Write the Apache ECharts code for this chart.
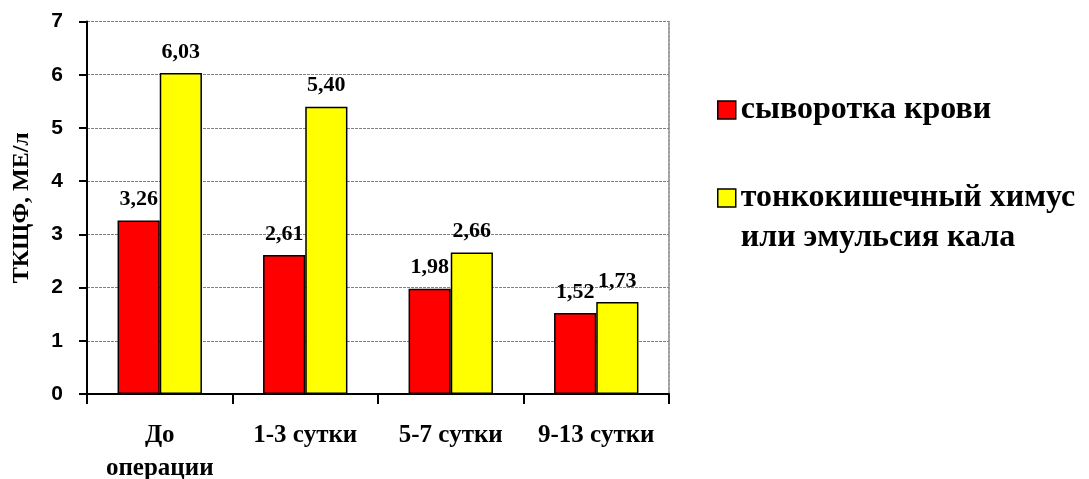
<!DOCTYPE html>
<html>
<head>
<meta charset="utf-8">
<script src="https://cdn.jsdelivr.net/npm/echarts@6/dist/echarts.min.js"></script>
<style>
  html, body { margin: 0; padding: 0; background: #ffffff; }
  #chart { width: 1089px; height: 479px; }
</style>
</head>
<body>
<div id="chart"></div>
<script>
// Categories (time points) and values, МЕ/л
const categories = ['До\nоперации', '1-3 сутки', '5-7 сутки', '9-13 сутки'];
const serumName = 'сыворотка крови';
const chymeName = 'тонкокишечный химус\nили эмульсия кала';
const serumValues = [3.26, 2.61, 1.98, 1.52];
const chymeValues = [6.03, 5.40, 2.66, 1.73];
const yAxisTitle = 'ТКЩФ, МЕ/л';

const SERIF = '"Liberation Serif", "Times New Roman", serif';
const SANS = '"Liberation Sans", Arial, sans-serif';

const fmt = v => v.value.toFixed(2).replace('.', ',');

const valueLabel = {
  show: true,
  position: 'top',
  distance: 10,
  formatter: fmt,
  fontFamily: SERIF,
  fontWeight: 'bold',
  fontSize: 22,
  color: '#000'
};

const LEGEND_LINE = 40;
const legendText = {
  fontFamily: SERIF,
  fontWeight: 'bold',
  fontSize: 32,
  color: '#000',
  lineHeight: LEGEND_LINE
};

const legendCommon = {
  orient: 'vertical',
  left: 712,
  itemWidth: 18,
  itemHeight: 18,
  itemGap: 10,
  selectedMode: false,
  icon: 'rect',
  itemStyle: { borderColor: '#000', borderWidth: 1.5 },
  textStyle: legendText
};

const chart = echarts.init(document.getElementById('chart'), null, { renderer: 'canvas' });
chart.setOption({
  backgroundColor: '#ffffff',
  animation: false,
  grid: { left: 87, right: 420, top: 21.5, bottom: 85, containLabel: false, outerBoundsMode: 'none' },
  legend: [
    Object.assign({}, legendCommon, {
      data: [serumName],
      top: 85
    }),
    Object.assign({}, legendCommon, {
      data: [chymeName],
      top: 133,
      // a blank first line keeps the icon level with the first text line
      formatter: name => ' \n' + name
    })
  ],
  xAxis: {
    type: 'category',
    data: categories,
    axisLine: { lineStyle: { color: '#000', width: 2 } },
    axisTick: { show: true, length: 10, alignWithLabel: false, lineStyle: { color: '#000', width: 2 } },
    axisLabel: {
      margin: 25,
      interval: 0,
      fontFamily: SERIF,
      fontWeight: 'bold',
      fontSize: 25,
      lineHeight: 33,
      color: '#000'
    },
    splitLine: { show: false }
  },
  yAxis: [
    {
      type: 'value',
      min: 0,
      max: 7,
      interval: 1,
      name: yAxisTitle,
      nameLocation: 'middle',
      nameGap: 53,
      nameRotate: 90,
      nameTextStyle: { fontFamily: SERIF, fontWeight: 'bold', fontSize: 24, color: '#000' },
      axisLine: { show: true, lineStyle: { color: '#000', width: 2 } },
      axisTick: { show: true, length: 8, lineStyle: { color: '#000', width: 2 } },
      axisLabel: { margin: 24, fontFamily: SANS, fontWeight: 'bold', fontSize: 21, color: '#000' },
      splitLine: { show: true, lineStyle: { color: '#808080', width: 1, type: [3, 1] } }
    },
    {
      // dashed frame on the right side of the plot area
      type: 'value',
      position: 'right',
      min: 0,
      max: 7,
      interval: 1,
      axisLine: { show: true, lineStyle: { color: '#808080', width: 1.5, type: [3, 1] } },
      axisTick: { show: false },
      axisLabel: { show: false },
      splitLine: { show: false }
    }
  ],
  series: [
    {
      name: serumName,
      type: 'bar',
      data: serumValues,
      barGap: '0%',
      barCategoryGap: '42%',
      itemStyle: { color: '#ff0000', borderColor: '#000', borderWidth: 1.5 },
      label: valueLabel
    },
    {
      name: chymeName,
      type: 'bar',
      data: chymeValues,
      barGap: '0%',
      barCategoryGap: '42%',
      itemStyle: { color: '#ffff00', borderColor: '#000', borderWidth: 1.5 },
      label: valueLabel
    }
  ]
});
</script>
</body>
</html>
